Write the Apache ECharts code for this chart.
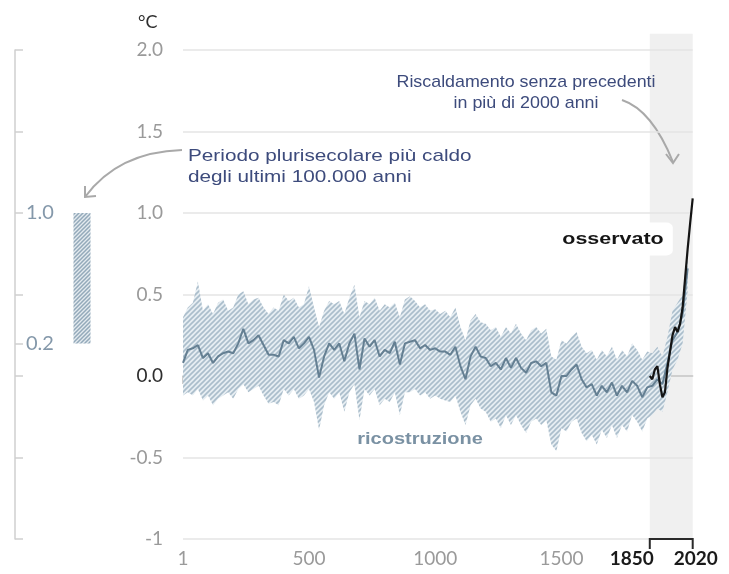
<!DOCTYPE html>
<html>
<head>
<meta charset="utf-8">
<script src="https://cdn.jsdelivr.net/npm/echarts@6/dist/echarts.min.js"></script>
<style>
  html, body { margin: 0; padding: 0; background: #fff; }
  #chart { width: 729px; height: 574px; }
</style>
</head>
<body>
<div id="chart"></div>
<script>
// Reconstructed global surface temperature (°C), 20-year steps
const years = [
  1, 20, 40, 60, 80, 100, 120, 140, 160, 180, 200, 220, 240, 260, 280,
  300, 320, 340, 360, 380, 400, 420, 440, 460, 480, 500, 520, 540, 560, 580,
  600, 620, 640, 660, 680, 700, 720, 740, 760, 780, 800, 820, 840, 860, 880,
  900, 920, 940, 960, 980, 1000, 1020, 1040, 1060, 1080, 1100, 1120, 1140, 1160, 1180,
  1200, 1220, 1240, 1260, 1280, 1300, 1320, 1340, 1360, 1380, 1400, 1420, 1440, 1460, 1480,
  1500, 1520, 1540, 1560, 1580, 1600, 1620, 1640, 1660, 1680, 1700, 1720, 1740, 1760, 1780,
  1800, 1820, 1840, 1860, 1880, 1900, 1920, 1940, 1960, 1980, 2000
];
const recoMid = [
  0.08, 0.16, 0.17, 0.19, 0.11, 0.14, 0.08, 0.12, 0.14, 0.15,
  0.14, 0.20, 0.29, 0.20, 0.22, 0.25, 0.19, 0.13, 0.13, 0.12,
  0.22, 0.20, 0.24, 0.17, 0.20, 0.24, 0.16, -0.01, 0.12, 0.20,
  0.16, 0.20, 0.09, 0.20, 0.26, 0.04, 0.23, 0.18, 0.22, 0.12,
  0.16, 0.14, 0.21, 0.07, 0.20, 0.21, 0.22, 0.17, 0.19, 0.16,
  0.17, 0.15, 0.15, 0.13, 0.18, 0.06, -0.02, 0.12, 0.18, 0.12,
  0.11, 0.06, 0.08, 0.04, 0.11, 0.05, 0.11, 0.05, 0.02, 0.08,
  0.09, 0.06, 0.08, -0.10, -0.12, 0.00, 0.00, 0.04, 0.07, -0.02,
  -0.07, -0.05, -0.12, -0.06, -0.10, -0.04, -0.12, -0.06, -0.10, -0.03,
  -0.06, -0.13, -0.07, -0.06, -0.02, -0.05, 0.08, 0.22, 0.27, 0.38,
  0.66
];
const recoHigh = [
  0.36, 0.42, 0.45, 0.58, 0.40, 0.44, 0.38, 0.45, 0.47, 0.40,
  0.42, 0.50, 0.52, 0.44, 0.47, 0.48, 0.42, 0.38, 0.42, 0.40,
  0.50, 0.46, 0.48, 0.42, 0.44, 0.55, 0.42, 0.30, 0.40, 0.46,
  0.44, 0.46, 0.38, 0.48, 0.56, 0.36, 0.46, 0.44, 0.48, 0.40,
  0.44, 0.42, 0.45, 0.36, 0.47, 0.49, 0.46, 0.42, 0.44, 0.40,
  0.41, 0.38, 0.40, 0.36, 0.42, 0.30, 0.22, 0.34, 0.38, 0.33,
  0.32, 0.28, 0.30, 0.24, 0.30, 0.26, 0.32, 0.26, 0.22, 0.28,
  0.30, 0.26, 0.29, 0.12, 0.10, 0.22, 0.20, 0.24, 0.27, 0.18,
  0.14, 0.16, 0.10, 0.16, 0.12, 0.18, 0.10, 0.16, 0.12, 0.20,
  0.16, 0.10, 0.15, 0.14, 0.18, 0.12, 0.24, 0.40, 0.45, 0.50,
  0.78
];
const recoLow = [
  -0.12, -0.10, -0.12, -0.08, -0.15, -0.12, -0.18, -0.14, -0.12, -0.10,
  -0.14, -0.08, -0.05, -0.10, -0.08, -0.06, -0.12, -0.17, -0.16, -0.18,
  -0.08, -0.12, -0.08, -0.14, -0.12, -0.08, -0.16, -0.33, -0.18, -0.10,
  -0.14, -0.10, -0.22, -0.10, -0.05, -0.27, -0.08, -0.12, -0.08, -0.18,
  -0.14, -0.16, -0.10, -0.24, -0.10, -0.10, -0.08, -0.12, -0.10, -0.14,
  -0.12, -0.14, -0.15, -0.16, -0.12, -0.22, -0.30, -0.18, -0.14, -0.20,
  -0.22, -0.28, -0.26, -0.32, -0.24, -0.30, -0.24, -0.30, -0.35, -0.28,
  -0.26, -0.30, -0.27, -0.42, -0.46, -0.32, -0.34, -0.28, -0.26, -0.35,
  -0.40, -0.36, -0.42, -0.33, -0.38, -0.30, -0.38, -0.30, -0.34, -0.24,
  -0.28, -0.34, -0.26, -0.24, -0.20, -0.22, -0.10, 0.04, 0.10, 0.20,
  0.52
];

// Observed decadal means (°C)
const obsYears = [1850, 1860, 1870, 1880, 1890, 1900, 1910, 1920, 1930,
                  1940, 1950, 1960, 1970, 1980, 1990, 2000, 2010, 2020];
const obsValues = [0.00, -0.02, 0.04, 0.06, -0.05, -0.13, -0.10, 0.05, 0.15,
                   0.25, 0.30, 0.27, 0.32, 0.42, 0.60, 0.78, 0.94, 1.09];

// Warmest multi-century period of the last 100,000 years (°C)
const warmRange = [0.2, 1.0];

// Axis ticks
const xLabelYears = [1, 500, 1000, 1500, 1850, 2020];
const xTickYears = [1, 500, 1000, 1500];
const recentSpan = [1850, 2020];
const sideTicks = [-1, -0.5, 0, 0.2, 0.5, 1, 1.5, 2];
const sideLabels = [0.2, 1.0];

const BLUE_TXT = '#3d4b7c';
const GREY_TXT = '#9a9a9a';
const SANS = '"Liberation Sans", Arial, sans-serif';

// Diagonal hatch used for the uncertainty band and the side bar
function hatch(bg, fg, size, lw) {
  const c = document.createElement('canvas');
  c.width = c.height = size;
  const g = c.getContext('2d');
  g.fillStyle = bg;
  g.fillRect(0, 0, size, size);
  g.strokeStyle = fg;
  g.lineWidth = lw;
  g.beginPath();
  g.moveTo(-1, size + 1); g.lineTo(size + 1, -1);
  g.moveTo(-1, 1); g.lineTo(1, -1);
  g.moveTo(size - 1, size + 1); g.lineTo(size + 1, size - 1);
  g.stroke();
  return c;
}
const bandPattern = { image: hatch('#e6edf2', '#aabdcb', 5, 1.6), repeat: 'repeat' };
const barPattern = { image: hatch('#e3eaef', '#93a9ba', 4, 1.5), repeat: 'repeat' };

const chart = echarts.init(document.getElementById('chart'), null, { renderer: 'canvas' });

const option = {
  animation: false,
  backgroundColor: '#fff',
  grid: [
    { left: 183, right: 36.3, top: 50, bottom: 35 },
    { left: 15, width: 134, top: 50, bottom: 35 }
  ],
  xAxis: [
    {
      gridIndex: 0,
      type: 'value',
      min: 1,
      max: 2020,
      axisLine: { show: true, lineStyle: { color: '#c8c8c8', width: 1.5 } },
      axisTick: { show: true, customValues: xTickYears, length: 8, lineStyle: { color: '#bdbdbd', width: 1.5 } },
      splitLine: { show: false },
      axisLabel: {
        customValues: xLabelYears,
        margin: 10,
        formatter: function (v) {
          if (v === 1850) return '{b1|1850}';
          if (v === 2020) return '{b2|2020}';
          return '{g|' + v + '}';
        },
        rich: {
          g: { color: GREY_TXT, fontFamily: 'Lato', fontSize: 19 },
          b1: { color: '#1a1a1a', fontFamily: 'Lato', fontWeight: 'bold', fontSize: 19, padding: [0, 36, 0, 0] },
          b2: { color: '#1a1a1a', fontFamily: 'Lato', fontWeight: 'bold', fontSize: 19, padding: [0, 0, 0, 6] }
        }
      }
    },
    {
      gridIndex: 1,
      type: 'category',
      data: [''],
      show: false
    }
  ],
  yAxis: [
    {
      gridIndex: 0,
      type: 'value',
      min: -1,
      max: 2,
      interval: 0.5,
      axisLine: { show: false },
      axisTick: { show: false },
      splitLine: { show: true, lineStyle: { color: '#e4e4e4', width: 1.5 } },
      axisLabel: {
        margin: 20,
        formatter: function (v) {
          if (v === 0) return '{d|0.0}';
          return '{g|' + (v === -1 ? '-1' : v.toFixed(1)) + '}';
        },
        rich: {
          g: { color: GREY_TXT, fontFamily: 'Lato', fontSize: 19 },
          d: { color: '#2e2e2e', fontFamily: 'Lato', fontSize: 19 }
        }
      }
    },
    {
      gridIndex: 1,
      type: 'value',
      min: -1,
      max: 2,
      interval: 0.5,
      axisLine: { show: true, lineStyle: { color: '#cfcfcf', width: 1.5 } },
      axisTick: { show: true, inside: true, length: 8, customValues: sideTicks, lineStyle: { color: '#cfcfcf', width: 1.5 } },
      splitLine: { show: false },
      axisLabel: {
        inside: true,
        margin: 11,
        customValues: sideLabels,
        fontFamily: 'Lato',
        fontSize: 20,
        color: '#8498aa',
        formatter: function (v) { return Number(v).toFixed(1); }
      }
    }
  ],
  series: [
    {
      // Grey backdrop behind the instrumental period
      type: 'custom',
      xAxisIndex: 0, yAxisIndex: 0,
      z: -1,
      clip: false,
      silent: true,
      data: [[recentSpan[0], recentSpan[1]]],
      renderItem: function (params, api) {
        const a = api.coord([api.value(0), 2.1]);
        const b = api.coord([api.value(1), -1]);
        return {
          type: 'rect',
          shape: { x: a[0], y: a[1], width: b[0] - a[0], height: b[1] - a[1] },
          style: { fill: '#f0f0f0' }
        };
      }
    },
    {
      // Uncertainty range of the reconstruction, drawn as one hatched polygon
      type: 'custom',
      xAxisIndex: 0, yAxisIndex: 0,
      silent: true,
      z: 1,
      data: years.map((y, i) => [y, recoLow[i], recoHigh[i]]),
      encode: { x: 0, y: [1, 2] },
      renderItem: function (params, api) {
        if (params.dataIndex !== 0) return null;
        const top = years.map((y, i) => api.coord([y, recoHigh[i]]));
        const bottom = years.map((y, i) => api.coord([y, recoLow[i]])).reverse();
        return {
          type: 'polygon',
          shape: { points: top.concat(bottom) },
          style: { fill: bandPattern, stroke: null }
        };
      }
    },
    {
      name: 'ricostruzione',
      type: 'line',
      xAxisIndex: 0, yAxisIndex: 0,
      symbol: 'none',
      z: 3,
      lineStyle: { color: '#647f92', width: 2 },
      data: years.map((y, i) => [y, recoMid[i]])
    },
    {
      name: 'osservato',
      type: 'line',
      xAxisIndex: 0, yAxisIndex: 0,
      symbol: 'none',
      z: 4,
      lineStyle: { color: '#141414', width: 2.2 },
      data: obsYears.map((y, i) => [y, obsValues[i]])
    },
    {
      // Bracket marking 1850–2020 on the time axis
      type: 'custom',
      xAxisIndex: 0, yAxisIndex: 0,
      clip: false,
      silent: true,
      z: 5,
      data: [[recentSpan[0], recentSpan[1]]],
      renderItem: function (params, api) {
        const a = api.coord([api.value(0), -1]);
        const b = api.coord([api.value(1), -1]);
        return {
          type: 'polyline',
          shape: { points: [[a[0], a[1] + 10], [a[0], a[1]], [b[0], b[1]], [b[0], b[1] + 10]] },
          style: { stroke: '#2a2a2a', lineWidth: 2, fill: null }
        };
      }
    },
    {
      type: 'bar',
      xAxisIndex: 1, yAxisIndex: 1,
      stack: 'warm',
      barWidth: 17,
      silent: true,
      itemStyle: { color: 'rgba(0,0,0,0)' },
      data: [warmRange[0]]
    },
    {
      type: 'bar',
      xAxisIndex: 1, yAxisIndex: 1,
      stack: 'warm',
      barWidth: 17,
      silent: true,
      itemStyle: { color: barPattern },
      data: [+(warmRange[1] - warmRange[0]).toFixed(2)]
    }
  ],
  graphic: [
    {
      type: 'text', left: 138, top: 13, z: 100,
      style: { text: '°C', font: '18px Lato', fill: '#2e2e2e' }
    },
    {
      type: 'text', x: 526, y: 72, z: 100, scaleX: 1.05,
      style: {
        text: 'Riscaldamento senza precedenti\nin più di 2000 anni',
        font: '17px ' + SANS, fill: BLUE_TXT,
        align: 'center', verticalAlign: 'top', lineHeight: 21
      }
    },
    {
      type: 'text', x: 188, y: 146, z: 100, scaleX: 1.22,
      style: {
        text: 'Periodo plurisecolare più caldo\ndegli ultimi 100.000 anni',
        font: '17px ' + SANS, fill: BLUE_TXT,
        align: 'left', verticalAlign: 'top', lineHeight: 21
      }
    },
    {
      type: 'text', x: 613, y: 239, z: 100, scaleX: 1.3,
      style: {
        text: 'osservato',
        font: 'bold 16.5px ' + SANS, fill: '#151515',
        align: 'center', verticalAlign: 'middle',
        backgroundColor: '#ffffff', padding: [8, 7], borderRadius: 5
      }
    },
    {
      type: 'text', x: 420, y: 440, z: 100, scaleX: 1.25,
      style: {
        text: 'ricostruzione',
        font: 'bold 16px ' + SANS, fill: '#7a91a3',
        align: 'center', verticalAlign: 'middle'
      }
    },
    {
      // arrow toward the recent warming
      type: 'group', z: 100,
      children: [
        {
          type: 'bezierCurve',
          shape: { x1: 622, y1: 100, x2: 673, y2: 162, cpx1: 652, cpy1: 110 },
          style: { stroke: '#a9a9a9', lineWidth: 2, fill: null }
        },
        {
          type: 'polyline',
          shape: { points: [[666, 154], [673, 163], [679, 154]] },
          style: { stroke: '#a9a9a9', lineWidth: 2, fill: null }
        }
      ]
    },
    {
      // arrow toward the side bar
      type: 'group', z: 100,
      children: [
        {
          type: 'bezierCurve',
          shape: { x1: 182, y1: 150, x2: 85, y2: 197, cpx1: 118, cpy1: 152 },
          style: { stroke: '#a9a9a9', lineWidth: 2, fill: null }
        },
        {
          type: 'polyline',
          shape: { points: [[85, 186], [85, 197], [96, 196]] },
          style: { stroke: '#a9a9a9', lineWidth: 2, fill: null }
        }
      ]
    }
  ]
};

chart.setOption(option);
</script>
</body>
</html>
